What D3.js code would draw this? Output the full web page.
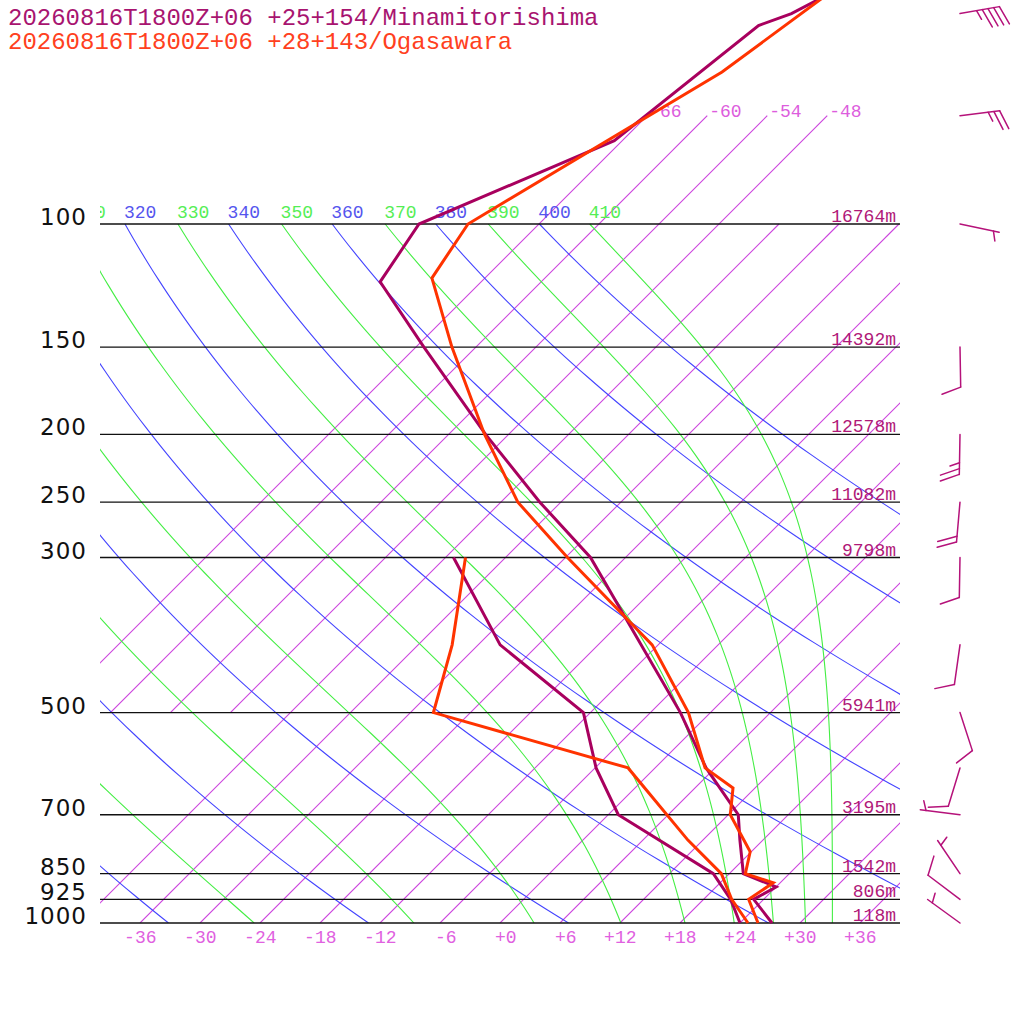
<!DOCTYPE html>
<html>
<head>
<meta charset="utf-8">
<script src="https://cdn.jsdelivr.net/npm/d3@7"></script>
<style>
  body { margin: 0; background: #fff; }
  svg { display: block; }
  .mono { font-family: "Liberation Mono", "DejaVu Sans Mono", monospace; }
</style>
</head>
<body>
<svg id="chart" width="1024" height="1024"></svg>
<script>
// ---- station titles ----
const stationNames = ['20260816T1800Z+06 +25+154/Minamitorishima', '20260816T1800Z+06 +28+143/Ogasawara'];

// ---- Minamitorishima ----
const minamiTP = [1000, 925, 888, 850, 761, 700, 600, 500, 300, 250, 200, 150, 121, 100, 76, 52, 50, 40];
const minamiT = [27.2, 23.0, 24.0, 19.4, 15.7, 13.0, 5.1, -3.0, -27.5, -38.1, -50.3, -65.2, -76.1, -78.0, -66.8, -63.9, -61.8, -55.6];
const minamiDP = [1000, 925, 850, 700, 600, 500, 400, 300];
const minamiTd = [24.0, 20.7, 16.4, 1.0, -5.9, -12.7, -27.8, -41.2];

// ---- Ogasawara ----
const ogaTP = [1000, 925, 876, 850, 791, 700, 641, 600, 500, 400, 300, 250, 200, 150, 119.5, 100, 60.6, 40];
const ogaT = [25.8, 22.5, 23.3, 19.6, 17.9, 12.2, 9.8, 5.0, -2.2, -12.6, -29.8, -40.3, -50.4, -62.4, -71.3, -73.1, -62.9, -58.4];
const ogaDP = [1000, 925, 850, 761, 600, 500, 400, 300];
const ogaTd = [24.8, 20.8, 17.2, 10.5, -2.7, -27.7, -32.6, -40.0];

// ---- pressure levels and heights ----
const levels = [100, 150, 200, 250, 300, 500, 700, 850, 925, 1000];
const heights = ['16764m', '14392m', '12578m', '11082m', '9798m', '5941m', '3195m', '1542m', '806m', '118m'];

// ---- winds at Minamitorishima (direction from, knots) ----
const windP = [1000, 925, 850, 700, 600, 500, 400, 300, 250, 200, 150, 100, 70, 50];
const windDir = [306, 307, 326, 277, 197, 162, 188, 181, 185, 181, 179, 102, 83, 80];
const windKt = [5, 10, 5, 5, 10, 10, 10, 10, 20, 25, 10, 5, 25, 45];

// ---- background grid ----
const isoWarm = d3.range(-42, 37, 6);
const isoCold = d3.range(-66, -47, 6);
const xTicks = d3.range(-36, 37, 6);
const dryThetas = d3.range(240, 401, 20);
const moistThetas = d3.range(250, 411, 20);

const purple = '#a8005e', red = '#ff3300';

const svg = d3.select('#chart');

const y = d3.scaleLog().domain([1000, 100]).range([923, 224]);
const xT = d3.scaleLinear().domain([-40, 40]).range([100, 900]);
const skewX = (t, p) => xT(t) + (y(1000) - y(p));

const fmt = v => (v < 0 ? '-' : '+') + Math.abs(v);

svg.append('defs').append('clipPath').attr('id', 'plot-clip')
    .append('rect').attr('x', 100).attr('y', 0).attr('width', 800).attr('height', 923);

const grid = svg.append('g').attr('clip-path', 'url(#plot-clip)');

// isotherms
const isoLines = isoWarm.map(t => ({ t, pb: 1000, pt: 100 }))
    .concat(isoCold.map(t => ({ t, pb: 500, pt: 70 })));
grid.selectAll('.iso').data(isoLines).join('line')
    .attr('x1', d => skewX(d.t, d.pb)).attr('y1', d => y(d.pb))
    .attr('x2', d => skewX(d.t, d.pt)).attr('y2', d => y(d.pt))
    .attr('stroke', '#cc44dd').attr('stroke-width', 1.1);

grid.selectAll('.isoLabel').data(isoCold).join('text')
    .attr('class', 'mono')
    .attr('x', t => skewX(t, 70) + 2).attr('y', y(70) + 1)
    .attr('font-size', 18).attr('fill', '#dd5ddd')
    .text(fmt);

// adiabats
const pSteps = d3.range(0, 101).map(i => 1000 * Math.pow(0.1, i / 100));
const dryT = (th, p) => th * Math.pow(p / 1000, 0.2857);

function thetaE(T, p) {
    const tc = T - 273.15;
    const es = 6.112 * Math.exp(17.67 * tc / (tc + 243.5));
    const r = 622 * es / (p - es);
    return T * Math.pow(1000 / p, 0.2854 * (1 - 0.00028 * r)) *
        Math.exp((3.376 / T - 0.00254) * r * (1 + 0.00081 * r));
}
function moistT(the, p) {
    let lo = 120, hi = 340;
    for (let i = 0; i < 50; i++) {
        const mid = (lo + hi) / 2;
        if (thetaE(mid, p) > the) hi = mid; else lo = mid;
    }
    return (lo + hi) / 2;
}

const curve = d3.line().x(d => skewX(d[1] - 273.15, d[0])).y(d => y(d[0]));

grid.selectAll('.dry').data(dryThetas).join('path')
    .attr('d', th => curve(pSteps.map(p => [p, dryT(th, p)])))
    .attr('fill', 'none').attr('stroke', '#4444ff').attr('stroke-width', 1.1);

grid.selectAll('.moist').data(moistThetas).join('path')
    .attr('d', th => curve(pSteps.map(p => [p, moistT(th, p)])))
    .attr('fill', 'none').attr('stroke', '#44ee44').attr('stroke-width', 1.1);

// labels only where the line meets 100 hPa near the plot
const thetaLabels = dryThetas.map(th => ({ th, x: skewX(dryT(th, 100) - 273.15, 100), c: '#5555ee' }))
    .concat(moistThetas.map(th => ({ th, x: skewX(moistT(th, 100) - 273.15, 100), c: '#55ee55' })))
    .filter(d => d.x > 60);
grid.selectAll('.thLabel').data(thetaLabels).join('text')
    .attr('class', 'mono')
    .attr('x', d => d.x - 1).attr('y', 218)
    .attr('font-size', 18).attr('fill', d => d.c)
    .text(d => d.th);

// pressure lines
svg.selectAll('.plev').data(levels).join('line')
    .attr('x1', 100).attr('x2', 900)
    .attr('y1', p => y(p)).attr('y2', p => y(p))
    .attr('stroke', '#111').attr('stroke-width', 1.4);

svg.selectAll('.plab').data(levels).join('text')
    .attr('x', 87).attr('y', p => y(p) + 1)
    .attr('text-anchor', 'end')
    .attr('font-family', '"DejaVu Sans", sans-serif')
    .attr('font-size', 23).attr('letter-spacing', 1).attr('fill', '#111')
    .text(p => p);

svg.selectAll('.hlab').data(levels).join('text')
    .attr('class', 'mono')
    .attr('x', 896).attr('y', p => y(p) - 2)
    .attr('text-anchor', 'end')
    .attr('font-size', 18).attr('fill', '#b01878')
    .text((p, i) => heights[i]);

// temperature axis labels
svg.selectAll('.xlab').data(xTicks).join('text')
    .attr('class', 'mono')
    .attr('x', t => xT(t) + 16.5).attr('y', 943)
    .attr('text-anchor', 'end')
    .attr('font-size', 18).attr('fill', '#e060e0')
    .text(fmt);

// soundings
const prof = d3.line().x(d => skewX(d[1], d[0])).y(d => y(d[0]));
const series = [
    { p: minamiTP, v: minamiT, c: purple },
    { p: minamiDP, v: minamiTd, c: purple },
    { p: ogaTP, v: ogaT, c: red },
    { p: ogaDP, v: ogaTd, c: red }
];
svg.selectAll('.prof').data(series).join('path')
    .attr('d', s => prof(s.p.map((p, i) => [p, s.v[i]])))
    .attr('fill', 'none').attr('stroke', s => s.c)
    .attr('stroke-width', 3).attr('stroke-linejoin', 'miter');

// wind barbs
const barbs = svg.append('g').attr('stroke', '#b5127a').attr('stroke-width', 1.5)
    .attr('fill', 'none').attr('stroke-linecap', 'round');
const rot = 70 * Math.PI / 180;
windP.forEach((p, i) => {
    const bx = 960, by = y(p);
    const a = windDir[i] * Math.PI / 180;
    const ux = Math.sin(a), uy = -Math.cos(a);
    const vx = ux * Math.cos(rot) - uy * Math.sin(rot);
    const vy = ux * Math.sin(rot) + uy * Math.cos(rot);
    const tx = bx + ux * 40, ty = by + uy * 40;
    barbs.append('line').attr('x1', bx).attr('y1', by).attr('x2', tx).attr('y2', ty);
    const kt = windKt[i];
    const full = Math.floor(kt / 10), half = (kt % 10) >= 5 ? 1 : 0;
    let k = full === 0 ? 1 : 0;
    for (let j = 0; j < full + half; j++, k++) {
        const len = j < full ? 20 : 10;
        const sx = tx - ux * 5.8 * k, sy = ty - uy * 5.8 * k;
        barbs.append('line').attr('x1', sx).attr('y1', sy)
            .attr('x2', sx + vx * len).attr('y2', sy + vy * len);
    }
});

// titles
svg.selectAll('.title').data(stationNames).join('text')
    .attr('class', 'mono')
    .attr('x', 8).attr('y', (d, i) => 25 + i * 24)
    .attr('font-size', 24)
    .attr('fill', (d, i) => i === 0 ? '#a81470' : '#ff4020')
    .text(d => d);
</script>
</body>
</html>
